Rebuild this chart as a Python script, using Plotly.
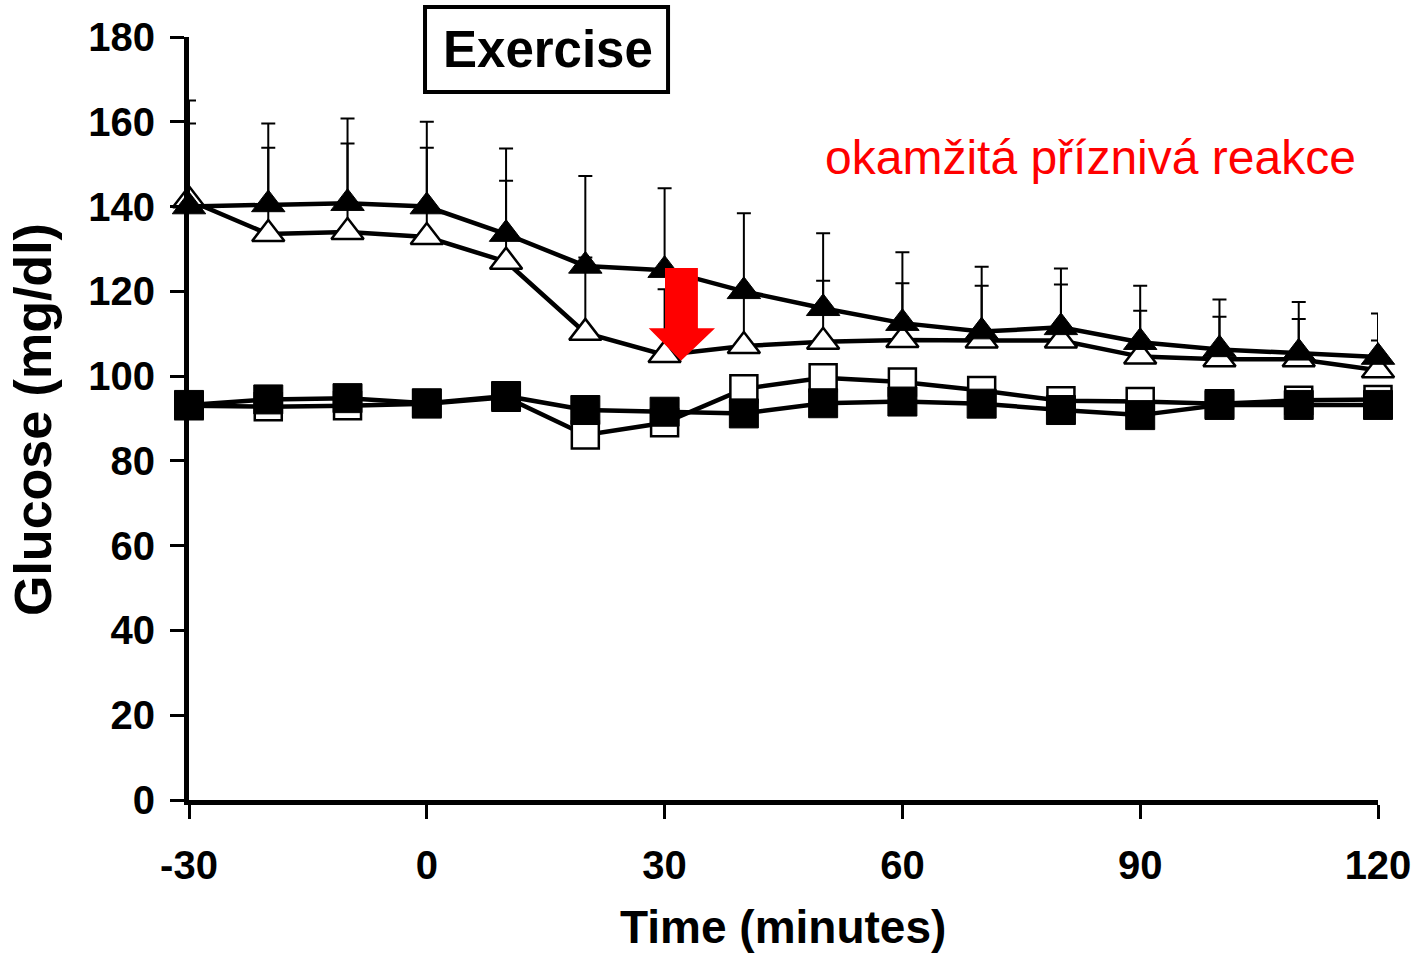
import plotly.graph_objects as go

# ---- data ----
time_min = [-30, -20, -10, 0, 10, 20, 30, 40, 50, 60, 70, 80, 90, 100, 110, 120]

filled_tri = [140, 140.5, 140.8, 140, 133.5, 126, 125, 120, 116, 112.5, 110.5, 111.5, 108, 106.3, 105.5, 104.5]
filled_tri_err = [25, 19.1, 20, 20, 20.2, 21.2, 19.3, 18.4, 17.7, 16.7, 15.3, 13.9, 13.3, 11.8, 12, 10.3]

open_tri = [141.5, 133.5, 134, 132.8, 127, 110.2, 105, 107.1, 108.1, 108.5, 108.4, 108.4, 104.6, 104, 104, 101.4]
open_tri_err = [18.1, 20.4, 20.9, 21.1, 19.1, 17.8, 15.5, 13, 14.4, 13.4, 12.9, 13.2, 10.8, 10, 9.5, 7]

filled_sq = [93.2, 94.5, 94.8, 93.6, 95.3, 92, 91.6, 91.2, 93.6, 94, 93.5, 92, 90.8, 93.2, 93.2, 93.2]
open_sq = [93, 92.8, 93, 93.5, 95, 86.1, 89, 97, 99.6, 98.6, 96.6, 94.2, 94, 93.5, 94.3, 94.5]

x_ticks = [-30, 0, 30, 60, 90, 120]
y_ticks = [0, 20, 40, 60, 80, 100, 120, 140, 160, 180]

FONT = "Liberation Sans, Arial, sans-serif"
LW = 4.5

fig = go.Figure()

def err(arr):
    return dict(type="data", symmetric=False, array=arr,
                arrayminus=[0] * len(arr), color="black", thickness=2, width=7)

fig.add_trace(go.Scatter(
    x=time_min, y=open_sq, mode="lines+markers", cliponaxis=False,
    line=dict(color="black", width=LW),
    marker=dict(symbol="square", size=27, color="white", line=dict(color="black", width=2.5)),
))
fig.add_trace(go.Scatter(
    x=time_min, y=filled_sq, mode="lines+markers", cliponaxis=False,
    line=dict(color="black", width=LW),
    marker=dict(symbol="square", size=29, color="black", line=dict(color="black", width=1)),
))
fig.add_trace(go.Scatter(
    x=time_min, y=open_tri, mode="lines+markers", cliponaxis=False,
    line=dict(color="black", width=LW),
    error_y=err(open_tri_err),
    marker=dict(symbol="triangle-up", size=28, color="white", line=dict(color="black", width=2.5)),
))
fig.add_trace(go.Scatter(
    x=time_min, y=filled_tri, mode="lines+markers", cliponaxis=False,
    line=dict(color="black", width=LW),
    error_y=err(filled_tri_err),
    marker=dict(symbol="triangle-up", size=29, color="black", line=dict(color="black", width=1)),
))

# red arrow (annotation shape)
fig.add_shape(
    type="path", xref="x", yref="y", layer="above",
    path="M 30.05 125.5 L 34.2 125.5 L 34.2 111.3 L 36.36 111.3 L 32.07 103.6 L 28.0 111.3 L 30.05 111.3 Z",
    fillcolor="#ff0000", line=dict(color="#ff0000", width=0),
)

# Exercise box
fig.add_shape(
    type="rect", xref="paper", yref="paper", layer="above",
    x0=0.1985, x1=0.4029, y0=0.9279, y1=1.0393,
    line=dict(color="black", width=4), fillcolor="rgba(0,0,0,0)",
)
fig.add_annotation(
    xref="paper", yref="paper", x=0.302, y=0.983, text="Exercise", showarrow=False,
    xanchor="center", yanchor="middle",
    font=dict(family=FONT, size=51, color="black", weight="bold"),
)
fig.add_annotation(
    xref="paper", yref="paper", x=0.7586, y=0.8427, text="okamžitá příznivá reakce",
    showarrow=False, xanchor="center", yanchor="middle",
    font=dict(family=FONT, size=48, color="#ff0000"),
)

# axis titles
fig.add_annotation(
    xref="paper", yref="paper", x=0.4996, y=-0.1664, text="Time (minutes)",
    showarrow=False, xanchor="center", yanchor="middle",
    font=dict(family=FONT, size=46, color="black", weight="bold"),
)
fig.add_annotation(
    xref="paper", yref="paper", x=-0.1312, y=0.498, text="Glucose (mg/dl)",
    showarrow=False, xanchor="center", yanchor="middle", textangle=-90,
    font=dict(family=FONT, size=52, color="black", weight="bold"),
)

fig.update_layout(
    width=1418, height=954,
    margin=dict(l=189, r=40, t=37, b=154),
    paper_bgcolor="white", plot_bgcolor="white",
    showlegend=False,
    font=dict(family=FONT, color="black"),
    xaxis=dict(
        range=[-30, 120], tickvals=x_ticks, ticktext=[str(v) for v in x_ticks],
        showgrid=False, zeroline=False, automargin=False,
        showline=True, linecolor="black", linewidth=5,
        ticks="outside", ticklen=14, tickwidth=3, tickcolor="black",
        ticklabelstandoff=12,
        tickfont=dict(family=FONT, size=40, color="black", weight="bold"),
    ),
    yaxis=dict(
        range=[0, 180], tickvals=y_ticks, ticktext=[str(v) for v in y_ticks],
        showgrid=False, zeroline=False, automargin=False,
        showline=True, linecolor="black", linewidth=5,
        ticks="outside", ticklen=14, tickwidth=3, tickcolor="black",
        ticklabelstandoff=7,
        tickfont=dict(family=FONT, size=40, color="black", weight="bold"),
    ),
)

fig.write_html("out.html")
